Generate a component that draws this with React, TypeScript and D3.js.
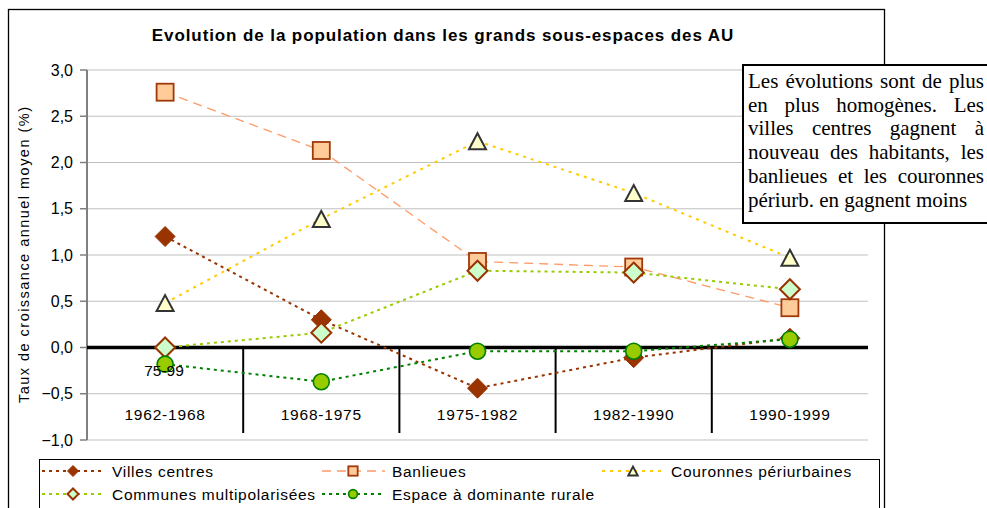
import React, { useMemo } from "react";
import * as d3 from "d3";

const categories = ["1962-1968", "1968-1975", "1975-1982", "1982-1990", "1990-1999"];
const villesCentres = [1.2, 0.3, -0.44, -0.11, 0.1];
const banlieues = [2.76, 2.13, 0.93, 0.87, 0.43];
const couronnes = [0.48, 1.39, 2.23, 1.67, 0.97];
const communesMulti = [0.0, 0.16, 0.83, 0.81, 0.63];
const espaceRural = [-0.18, -0.37, -0.04, -0.04, 0.09];
const yTicks = [-1, -0.5, 0, 0.5, 1, 1.5, 2, 2.5, 3];
const titleText = "Evolution de la population dans les grands sous-espaces des AU";
const yLabel = "Taux de croissance annuel moyen (%)";
const noteLines = [
  "Les évolutions sont de plus",
  "en plus homogènes. Les",
  "villes centres gagnent à",
  "nouveau des habitants, les",
  "banlieues et les couronnes",
  "périurb. en gagnent moins",
];

type Marker = "diamond" | "square" | "triangle" | "diamondOpen" | "circle";
interface Series {
  name: string;
  values: number[];
  color: string;
  width: number;
  dash: string;
  marker: Marker;
}
const series: Series[] = [
  { name: "Villes centres", values: villesCentres, color: "#993300", width: 2, dash: "3,4", marker: "diamond" },
  { name: "Banlieues", values: banlieues, color: "#FF9966", width: 1.3, dash: "9,6", marker: "square" },
  { name: "Couronnes périurbaines", values: couronnes, color: "#FFCC00", width: 2, dash: "3,5", marker: "triangle" },
  { name: "Communes multipolarisées", values: communesMulti, color: "#99CC00", width: 2, dash: "3,4", marker: "diamondOpen" },
  { name: "Espace à dominante rurale", values: espaceRural, color: "#008000", width: 2, dash: "3,4", marker: "circle" },
];

function MarkerShape({ type, x, y, s }: { type: Marker; x: number; y: number; s: number }) {
  if (type === "diamond") {
    const h = 10 * s;
    return <path d={`M${x},${y - h}L${x + h},${y}L${x},${y + h}L${x - h},${y}Z`} fill="#993300" stroke="#993300" strokeWidth={1} />;
  }
  if (type === "diamondOpen") {
    const h = 10 * s;
    return <path d={`M${x},${y - h}L${x + h},${y}L${x},${y + h}L${x - h},${y}Z`} fill="#CCFFCC" stroke="#993300" strokeWidth={2} />;
  }
  if (type === "square") {
    const h = 8.5 * s;
    return <rect x={x - h} y={y - h} width={2 * h} height={2 * h} fill="#FFCC99" stroke="#A0380A" strokeWidth={1.8} />;
  }
  if (type === "triangle") {
    const w = 8.5 * s;
    const hh = 8 * s;
    return <path d={`M${x},${y - hh}L${x + w},${y + hh}L${x - w},${y + hh}Z`} fill="#FFFFCC" stroke="#333333" strokeWidth={2} />;
  }
  return <circle cx={x} cy={y} r={8 * s} fill="#99CC00" stroke="#008000" strokeWidth={1.6} />;
}

export default function App() {
  const left = 87;
  const right = 868;
  const top = 70;
  const bottom = 440;
  const x = d3.scaleBand<string>().domain(categories).range([left, right]);
  const y = d3.scaleLinear().domain([-1, 3]).range([bottom, top]);
  const cx = (c: string) => (x(c) as number) + x.bandwidth() / 2;
  const line = d3
    .line<number>()
    .x((_, i) => cx(categories[i]))
    .y((v) => y(v));

  const noteFont = "21px 'Liberation Serif'";
  const noteLeft = 748;
  const noteRight = 984;
  const noteWords = useMemo(() => {
    const canvas = document.createElement("canvas");
    const ctx = canvas.getContext("2d")!;
    ctx.font = noteFont;
    return noteLines.map((ln, li) => {
      const words = ln.split(" ");
      const widths = words.map((w) => ctx.measureText(w).width);
      const total = widths.reduce((a, b) => a + b, 0);
      const last = li === noteLines.length - 1;
      const gap = last ? ctx.measureText(" ").width : (noteRight - noteLeft - total) / (words.length - 1);
      let pos = noteLeft;
      return words.map((w, i) => {
        const r = { w, x: pos };
        pos += widths[i] + gap;
        return r;
      });
    });
  }, []);

  const legendItems = [
    { s: series[0], lx: 42, tx: 112, row: 0 },
    { s: series[1], lx: 322, tx: 392, row: 0 },
    { s: series[2], lx: 602, tx: 671, row: 0 },
    { s: series[3], lx: 42, tx: 112, row: 1 },
    { s: series[4], lx: 322, tx: 392, row: 1 },
  ];
  const rowY = [471, 494];

  return (
    <svg width={987} height={508} style={{ position: "absolute", left: 0, top: 0 }} fontFamily="'Liberation Sans', Arial, sans-serif">
      <rect x={0} y={0} width={987} height={508} fill="#fff" />
      <rect x={8.5} y={9.5} width={876} height={520} fill="#fff" stroke="#000" strokeWidth={1.3} />
      <text x={443} y={41} textAnchor="middle" fontWeight="bold" fontSize={17} letterSpacing={0.9}>
        {titleText}
      </text>
      {yTicks.map((t) => (
        <g key={t}>
          <line x1={left} x2={right} y1={y(t)} y2={y(t)} stroke="#C0C0C0" strokeWidth={1.2} />
          <line x1={80} x2={left} y1={y(t)} y2={y(t)} stroke="#808080" strokeWidth={1.5} />
          <text x={73} y={y(t) + 5.5} textAnchor="end" fontSize={16}>
            {d3.format(".1f")(t).replace(".", ",")}
          </text>
        </g>
      ))}
      <line x1={left} x2={left} y1={top} y2={bottom} stroke="#808080" strokeWidth={2} />
      {categories.slice(1).map((c) => (
        <line key={c} x1={x(c)} x2={x(c)} y1={y(0)} y2={433} stroke="#000" strokeWidth={2} />
      ))}
      <line x1={left} x2={right} y1={y(0)} y2={y(0)} stroke="#000" strokeWidth={3.5} />
      {categories.map((c) => (
        <text key={c} x={cx(c)} y={420} textAnchor="middle" fontSize={15.5} letterSpacing={0.8}>
          {c}
        </text>
      ))}
      <text x={25} y={255} transform="rotate(-90 25 255)" textAnchor="middle" dominantBaseline="middle" fontSize={14.5} textLength={296} lengthAdjust="spacing">
        {yLabel}
      </text>
      {series.map((s) => (
        <path key={s.name} d={line(s.values) || ""} fill="none" stroke={s.color} strokeWidth={s.width} strokeDasharray={s.dash} />
      ))}
      {series.map((s) =>
        s.values.map((v, i) => <MarkerShape key={s.name + i} type={s.marker} x={cx(categories[i])} y={y(v)} s={1} />)
      )}
      <text x={164} y={376} textAnchor="middle" fontSize={15.5}>
        75-99
      </text>
      <rect x={743} y={65} width={260} height={158} fill="#fff" stroke="#000" strokeWidth={2} />
      {noteWords.map((ws, li) => (
        <text key={li} y={88 + li * 23.7} fontFamily="'Liberation Serif', 'Times New Roman', serif" fontSize={21}>
          {ws.map((w, i) => (
            <tspan key={i} x={w.x}>
              {w.w}
            </tspan>
          ))}
        </text>
      ))}
      <rect x={39.5} y={459.5} width={840} height={60} fill="#fff" stroke="#000" strokeWidth={1} />
      {legendItems.map((it) => (
        <g key={it.s.name}>
          <line x1={it.lx} x2={it.lx + 63} y1={rowY[it.row]} y2={rowY[it.row]} stroke={it.s.color} strokeWidth={it.s.width} strokeDasharray={it.s.dash} />
          <MarkerShape type={it.s.marker} x={it.lx + 31} y={rowY[it.row]} s={0.55} />
          <text x={it.tx} y={rowY[it.row] + 5.5} fontSize={15.5} letterSpacing={0.7}>
            {it.s.name}
          </text>
        </g>
      ))}
    </svg>
  );
}
